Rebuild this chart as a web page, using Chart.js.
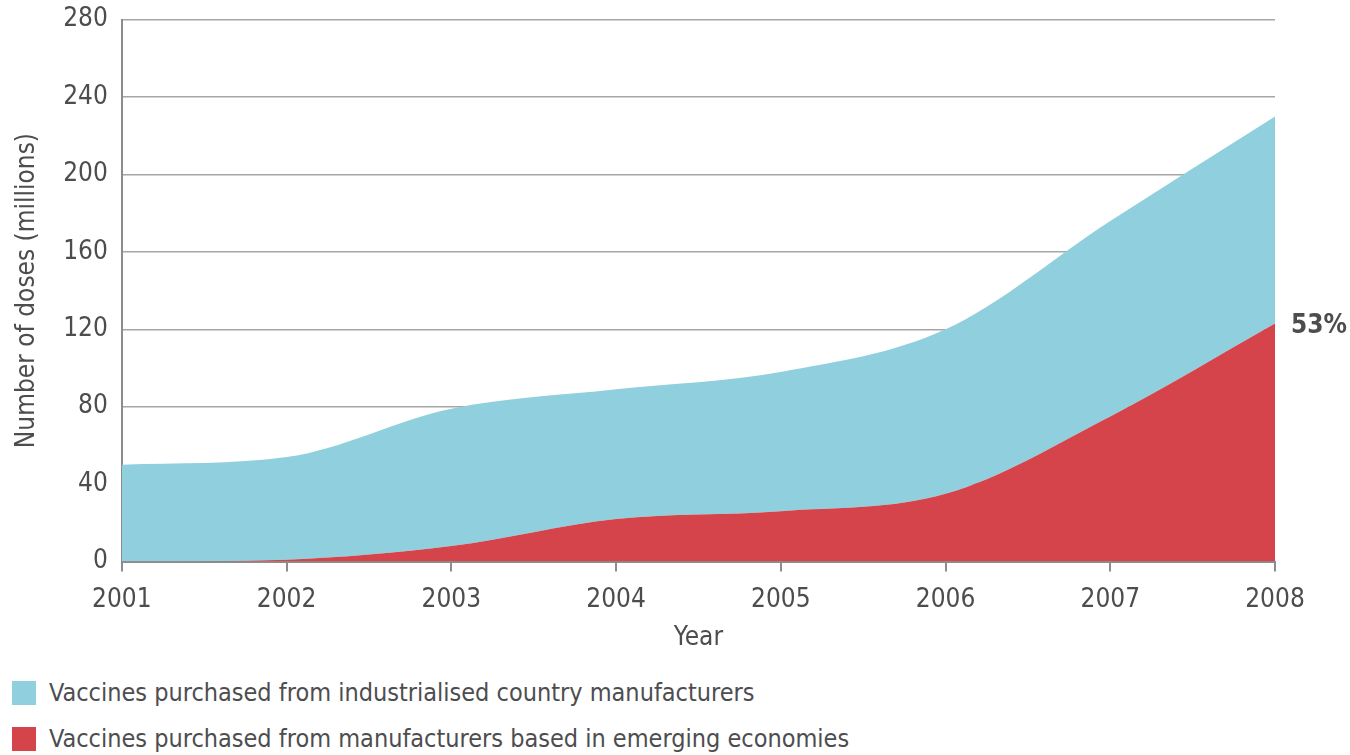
<!DOCTYPE html>
<html>
<head>
<meta charset="utf-8">
<script src="https://cdn.jsdelivr.net/npm/chart.js@4.4.1/dist/chart.umd.min.js"></script>
<style>
  html, body { margin:0; padding:0; background:#fff; }
  body { width:1350px; height:755px; overflow:hidden; position:relative; font-family:"Liberation Sans Narrow","DejaVu Sans Condensed",sans-serif; color:#4d4d4f; }
  #wrap { position:absolute; left:0; top:-10px; width:1350px; height:668px; }
  .leg { position:absolute; left:12px; display:flex; align-items:center; font-size:25px; }
  .leg i { display:inline-block; width:24px; height:24px; margin-right:13px; }
</style>
</head>
<body>
<div id="wrap"><canvas id="c"></canvas></div>
<div class="leg" style="top:678px"><i style="background:#90d0de"></i>Vaccines purchased from industrialised country manufacturers</div>
<div class="leg" style="top:724px"><i style="background:#d6444b"></i>Vaccines purchased from manufacturers based in emerging economies</div>
<script>
// Datos (millones de dosis)
const years = ['2001','2002','2003','2004','2005','2006','2007','2008'];
const emerging = [0, 1, 8, 22, 26, 35, 75, 123];
const industrialised = [50, 53, 71, 67, 72, 85, 101, 107];
const yTicks = [0, 40, 80, 120, 160, 200, 240, 280];
const endLabel = '53%';

const FONT = "'Liberation Sans Narrow','DejaVu Sans Condensed',sans-serif";
const TXT = '#4d4d4f';

// Etiqueta del porcentaje al final de la serie roja
const endLabelPlugin = {
  id: 'endLabel',
  afterDatasetsDraw(chart) {
    const { ctx, scales } = chart;
    const i = emerging.length - 1;
    const x = scales.x.getPixelForValue(i);
    const y = scales.y.getPixelForValue(emerging[i]);
    ctx.save();
    ctx.font = 'bold 26px ' + FONT;
    ctx.fillStyle = TXT;
    ctx.textBaseline = 'middle';
    ctx.fillText(endLabel, x + 16, y + 3);
    ctx.restore();
  }
};

new Chart(document.getElementById('c'), {
  type: 'line',
  data: {
    labels: years,
    datasets: [
      {
        label: 'Vaccines purchased from manufacturers based in emerging economies',
        data: emerging,
        backgroundColor: '#d6444b',
        borderWidth: 0,
        pointRadius: 0,
        fill: 'origin',
        cubicInterpolationMode: 'monotone'
      },
      {
        label: 'Vaccines purchased from industrialised country manufacturers',
        data: industrialised,
        backgroundColor: '#90d0de',
        borderWidth: 0,
        pointRadius: 0,
        fill: '-1',
        cubicInterpolationMode: 'monotone'
      }
    ]
  },
  options: {
    responsive: true,
    maintainAspectRatio: false,
    animation: false,
    layout: { padding: { top: 6, right: 75, left: 8, bottom: 0 } },
    plugins: { legend: { display: false }, tooltip: { enabled: false } },
    scales: {
      x: {
        offset: false,
        grid: { drawOnChartArea: false, drawTicks: true, tickLength: 10, color: '#8c8c8c', lineWidth: 2 },
        border: { color: '#8c8c8c', width: 2 },
        ticks: { color: TXT, font: { family: FONT, size: 26 }, padding: 13, maxRotation: 0 },
        title: { display: true, text: 'Year', color: TXT, font: { family: FONT, size: 26 }, padding: { top: -6 } }
      },
      y: {
        stacked: true,
        min: 0, max: 280,
        afterBuildTicks(axis) { axis.ticks = yTicks.map(v => ({ value: v })); },
        grid: { drawTicks: false, color: '#a6a6a6', lineWidth: 1.5 },
        border: { color: '#8c8c8c', width: 2 },
        ticks: { color: TXT, font: { family: FONT, size: 26 }, padding: 14 },
        title: { display: true, text: 'Number of doses (millions)', color: TXT, font: { family: FONT, size: 26 }, padding: { bottom: 6 } }
      }
    }
  },
  plugins: [endLabelPlugin]
});
</script>
</body>
</html>
